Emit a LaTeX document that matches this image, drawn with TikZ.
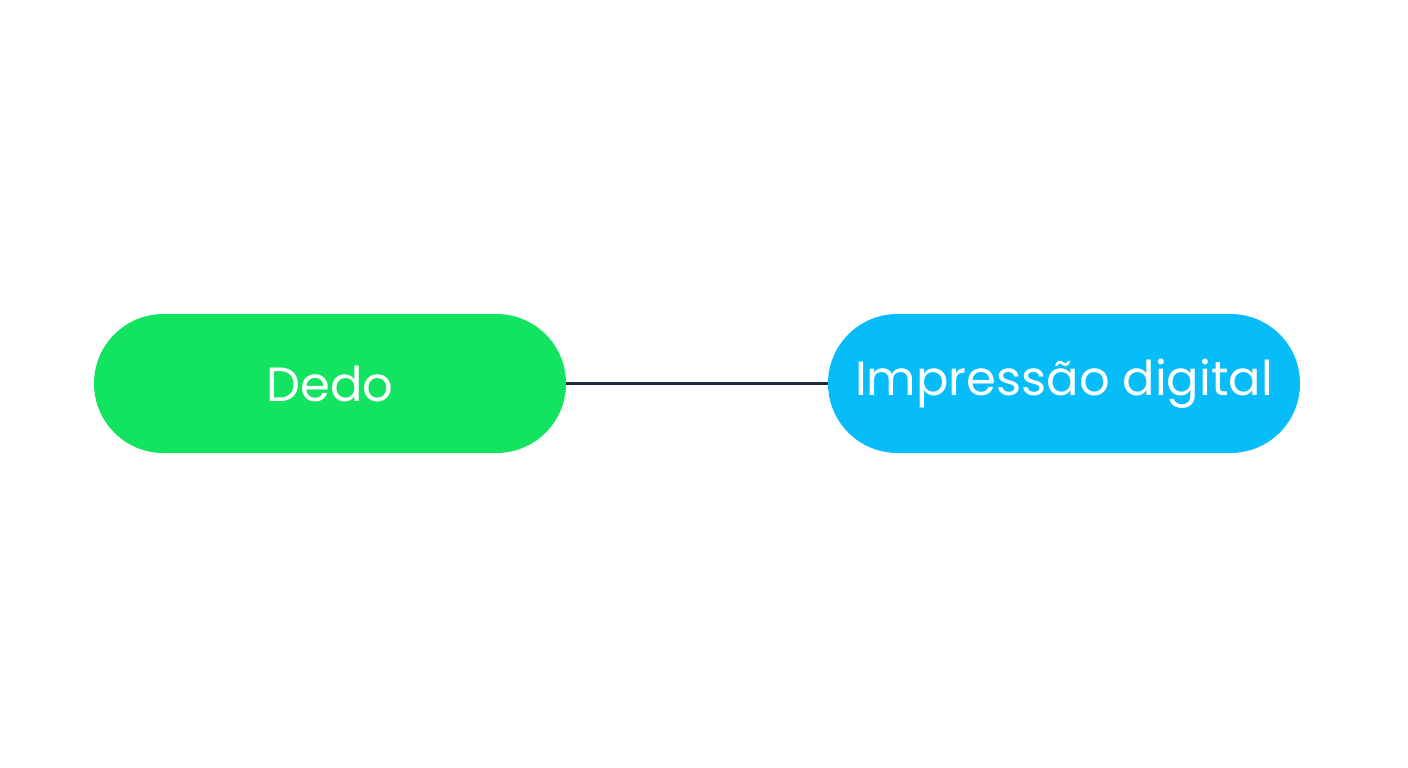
\documentclass[tikz,border=0pt]{standalone}
\usepackage{fontspec}
\setmainfont{Poppins}
\usetikzlibrary{shapes.misc}
\definecolor{dgreen}{HTML}{12E462}
\definecolor{iblue}{HTML}{06BDFA}
\definecolor{linec}{HTML}{1E293B}
\begin{document}
\begin{tikzpicture}[x=1pt,y=-1pt,
  pill/.style={rounded rectangle, minimum width=472pt, minimum height=139pt, text=white, font=\fontsize{48}{54}\selectfont, inner sep=0pt},
  link/.style={draw=linec, line width=2.4pt}]
\fill[white] (0,0) rectangle (1408,768);
\node[pill, fill=dgreen] (dedo) at (330,383.5) {Dedo};
\node[pill, fill=iblue] (imp) at (1064,383.5) {Impressão digital};
\draw[link] (dedo.east) -- (imp.west);
\end{tikzpicture}
\end{document}
